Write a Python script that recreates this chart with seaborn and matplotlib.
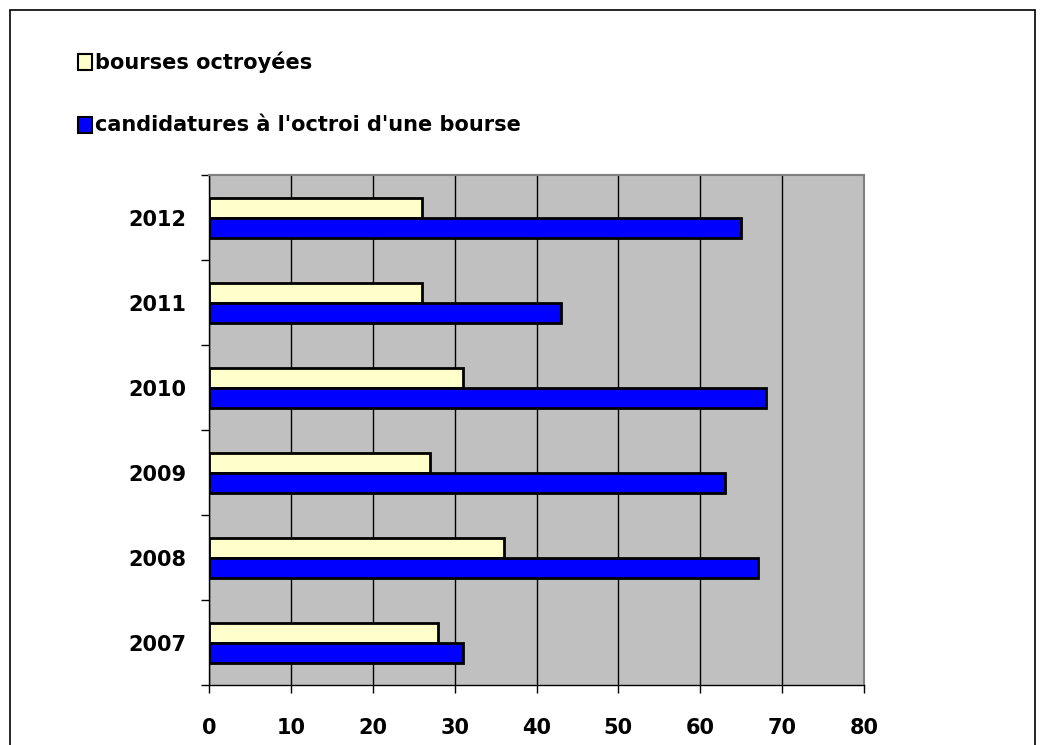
import pandas as pd
import matplotlib.pyplot as plt
import seaborn as sns
from matplotlib.patches import Rectangle

# Data
years = ["2012", "2011", "2010", "2009", "2008", "2007"]
bourses = [26, 26, 31, 27, 36, 28]
candidatures = [65, 43, 68, 63, 67, 31]
series_names = ["bourses octroyées", "candidatures à l'octroi d'une bourse"]
colors = ["#FFFFCC", "#0000FF"]

df = pd.DataFrame({
    "year": years * 2,
    "value": bourses + candidatures,
    "serie": [series_names[0]] * len(years) + [series_names[1]] * len(years),
})

sns.set_style("white")
plt.rcParams["font.family"] = ["DejaVu Sans"]
plt.rcParams["text.color"] = "black"
plt.rcParams["xtick.color"] = "black"
plt.rcParams["ytick.color"] = "black"

fig = plt.figure(figsize=(10.45, 7.45), dpi=100)
ax = fig.add_axes([0.2, 0.0805, 0.6268, 0.6845])

sns.barplot(data=df, y="year", x="value", hue="serie", order=years,
            hue_order=series_names, palette=colors, orient="h",
            width=0.47, edgecolor="black", linewidth=2, saturation=1,
            ax=ax, legend=False)

ax.set_facecolor("#C0C0C0")
ax.set_xlim(0, 80)
ax.set_ylim(5.5, -0.5)
ax.set_xticks(range(0, 81, 10))
ax.xaxis.grid(True, color="black", linewidth=1)
ax.set_axisbelow(True)
ax.set_xlabel("")
ax.set_ylabel("")

# y ticks between categories, labels centred without marks
ax.set_yticks([i - 0.5 for i in range(len(years) + 1)], minor=True)
ax.tick_params(axis="y", which="major", length=0, pad=16, labelsize=15,
               labelcolor="black")
ax.tick_params(axis="y", which="minor", length=6, width=1, color="black", left=True)
ax.tick_params(axis="x", which="major", length=6, width=1, color="black",
               bottom=True, pad=18, labelsize=15, labelcolor="black")
for lab in ax.get_xticklabels() + ax.get_yticklabels():
    lab.set_fontweight("bold")

for side in ["top", "right"]:
    ax.spines[side].set_color("#808080")
    ax.spines[side].set_linewidth(1.5)
for side in ["left", "bottom"]:
    ax.spines[side].set_color("black")
    ax.spines[side].set_linewidth(1)

# legend as colored squares with labels
for i, (name, col) in enumerate(zip(series_names, colors)):
    y = 1 - (62 + 63 * i) / 745
    fig.patches.append(Rectangle((78 / 1045, y - 8 / 745), 14 / 1045, 16 / 745,
                                 transform=fig.transFigure, facecolor=col,
                                 edgecolor="black", linewidth=1.5))
    fig.text(95 / 1045, y, name, fontsize=15, fontweight="bold",
             va="center", ha="left", color="black")

# outer frame
fig.patches.append(Rectangle((10 / 1045, -0.01), 1025 / 1045, 1 - 10 / 745 + 0.01,
                             transform=fig.transFigure, fill=False,
                             edgecolor="black", linewidth=1.2))

fig.savefig("out.png", dpi=100)
